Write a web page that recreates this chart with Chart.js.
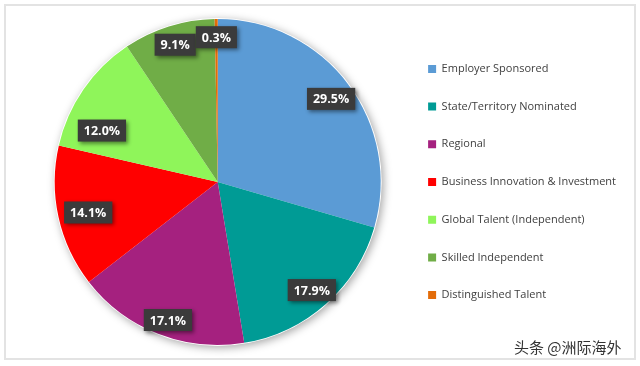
<!DOCTYPE html>
<html>
<head>
<meta charset="utf-8">
<script src="https://cdn.jsdelivr.net/npm/chart.js@4.4.0/dist/chart.umd.min.js"></script>
<style>
  body { margin: 0; background: #fff; }
  #wrap { position: relative; width: 640px; height: 366px; }
  #frame { position: absolute; left: 4px; top: 4px; width: 628px; height: 352px; border: 2px solid #e3e3e3; }
  #mark { position: absolute; left: 514px; top: 336px; font: 15px "Noto Sans CJK SC"; color: #333; text-shadow: 0 0 3px #fff; }
  canvas { position: absolute; left: 0; top: 0; }
</style>
</head>
<body>
<div id="wrap">
  <div id="frame"></div>
  <canvas id="pie" width="640" height="366"></canvas>
  <div id="mark">头条 @洲际海外</div>
</div>
<script>
// visa streams, share of places (%)
const categories = ['Employer Sponsored', 'State/Territory Nominated', 'Regional',
  'Business Innovation & Investment', 'Global Talent (Independent)',
  'Skilled Independent', 'Distinguished Talent'];
const shares = [29.5, 17.9, 17.1, 14.1, 12.0, 9.1, 0.3];
const colors = ['#5b9bd5', '#009b95', '#a5217f', '#ff0000', '#8ff55a', '#70ad47', '#e36c09'];

// small pixel nudges so the boxes sit where the original "best fit" put them
const labelNudge = [[0, 2], [0, 2], [2, 6], [9, 0], [1, 29], [0, -2], [0, -3]];

// soft shadow under the whole pie
const pieShadow = {
    id: 'pieShadow',
    beforeDatasetsDraw(chart) {
        const arc = chart.getDatasetMeta(0).data[0];
        if (!arc) return;
        const ctx = chart.ctx;
        ctx.save();
        ctx.shadowColor = 'rgba(0,0,0,0.35)';
        ctx.shadowBlur = 8;
        ctx.shadowOffsetX = 2;
        ctx.shadowOffsetY = 2;
        ctx.fillStyle = '#fff';
        ctx.beginPath();
        ctx.arc(arc.x, arc.y, arc.outerRadius + 1, 0, Math.PI * 2);
        ctx.fill();
        ctx.restore();
    }
};

// dark boxed percentage labels
const sliceLabels = {
    id: 'sliceLabels',
    afterDatasetsDraw(chart) {
        const ctx = chart.ctx;
        const meta = chart.getDatasetMeta(0);
        ctx.save();
        ctx.font = 'bold 12.5px "Open Sans"';
        ctx.textAlign = 'center';
        ctx.textBaseline = 'middle';
        meta.data.forEach((arc, i) => {
            const p = arc.getProps(['x', 'y', 'startAngle', 'endAngle', 'outerRadius'], true);
            const mid = (p.startAngle + p.endAngle) / 2;
            const r = p.outerRadius * 0.87;
            const x = p.x + Math.cos(mid) * r + labelNudge[i][0];
            const y = p.y + Math.sin(mid) * r + labelNudge[i][1];
            const text = shares[i].toFixed(1) + '%';
            const w = ctx.measureText(text).width + 12;
            const h = 22;
            ctx.shadowColor = 'rgba(0,0,0,0.45)';
            ctx.shadowBlur = 4;
            ctx.shadowOffsetX = 2;
            ctx.shadowOffsetY = 2;
            ctx.fillStyle = '#3b3b3b';
            ctx.fillRect(x - w / 2, y - h / 2, w, h);
            ctx.shadowColor = 'transparent';
            ctx.fillStyle = '#fff';
            ctx.fillText(text, x, y + 1);
        });
        ctx.restore();
    }
};

new Chart(document.getElementById('pie'), {
    type: 'pie',
    data: {
        labels: categories,
        datasets: [{
            data: shares,
            backgroundColor: colors,
            borderWidth: 0
        }]
    },
    options: {
        responsive: false,
        animation: false,
        layout: { padding: { left: 34, top: 19, bottom: 21, right: 14 } },
        plugins: {
            tooltip: { enabled: false },
            legend: {
                position: 'right',
                labels: {
                    boxWidth: 8,
                    boxHeight: 8,
                    padding: 26.7,
                    color: '#404040',
                    font: { family: 'Open Sans', size: 11 }
                }
            }
        }
    },
    plugins: [pieShadow, sliceLabels]
});
</script>
</body>
</html>
